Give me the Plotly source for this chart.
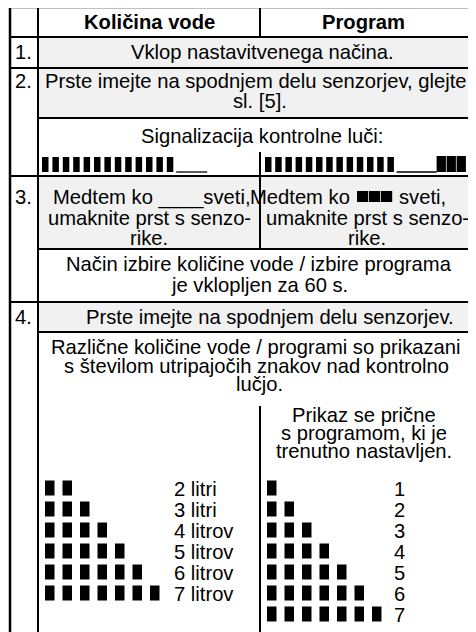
import plotly.graph_objects as go

W, H = 476, 632
OFF = 8  # default page body margin; coordinates below are page pixels
FONT = "Liberation Sans, Arial, Helvetica, sans-serif"
FS = 20.2

# ---------------- data ----------------
header_labels = ["Količina vode", "Program"]
step_numbers = ["1.", "2.", "3.", "4."]
step1_text = ["Vklop nastavitvenega načina."]
step2_text = ["Prste imejte na spodnjem delu senzorjev, glejte", "sl. [5]."]
signal_title = ["Signalizacija kontrolne luči:"]
step3_left = ["Medtem ko ____sveti,", "umaknite prst s senzo-", "rike."]
step3_right = ["umaknite prst s senzo-", "rike."]
mode_text = ["Način izbire količine vode / izbire programa", "je vklopljen za 60 s."]
step4_text = ["Prste imejte na spodnjem delu senzorjev."]
display_text = ["Različne količine vode / programi so prikazani",
                "s številom utripajočih znakov nad kontrolno", "lučjo."]
program_note = ["Prikaz se prične", "s programom, ki je", "trenutno nastavljen."]
water_labels = ["2 litri", "3 litri", "4 litrov", "5 litrov", "6 litrov", "7 litrov"]
water_counts = [2, 3, 4, 5, 6, 7]
program_labels = ["1", "2", "3", "4", "5", "6", "7"]
program_counts = [1, 2, 3, 4, 5, 6, 7]
signal_bar_count = 13
signal_block_count = 3

# ---------------- layout geometry ----------------
XL, XN, XM, XR = 10, 38, 260, 490   # outer left, number col, mid divider, right
C1 = 149
C2 = 365
CF = 260

shapes = []
annos = []

def rect(x0, y0, x1, y1, color):
    shapes.append(dict(type="rect", xref="x", yref="y", x0=x0, y0=y0, x1=x1, y1=y1,
                       fillcolor=color, line=dict(width=0), layer="below"))

def line(x0, y0, x1, y1, w=2):
    shapes.append(dict(type="line", xref="x", yref="y", x0=x0, y0=y0, x1=x1, y1=y1,
                       line=dict(color="black", width=w)))

def text(x, y, s, anchor="center", bold=False, size=FS):
    annos.append(dict(x=x, y=y, xref="x", yref="y", text=("<b>%s</b>" % s) if bold else s,
                      showarrow=False, xanchor=anchor, yanchor="middle",
                      font=dict(family=FONT, size=size, color="black")))

GREY = "#f1f1f1"
rect(XN, 37, XR, 68, GREY)
rect(XN, 68, XR, 118, GREY)
rect(XN, 176, XR, 249, GREY)
rect(XN, 302, XR, 332, GREY)

line(XL, 7, XR, 7, 2.5)
line(XL, 6, XL, H + 10, 2.5)
line(XN, 7, XN, H + 10, 2)
line(XL, 37, XR, 37)
line(XL, 68, XR, 68)
line(XN, 118, XR, 118)
line(XL, 176, XR, 176)
line(XN, 249, XR, 249)
line(XL, 302, XR, 302)
line(XN, 332, XR, 332)
line(XM, 7, XM, 37)
line(XM, 152, XM, 249)
line(XM, 406, XM, H + 10)

text(C1, 22, header_labels[0], bold=True)
text(C2 - 2, 22, header_labels[1], bold=True)

for s, y in zip(step_numbers, [52, 81, 197, 317]):
    text(13, y, s, anchor="left")

text(CF + 2, 52, step1_text[0])
text(256, 81, step2_text[0])
text(CF, 101, step2_text[1])
text(CF + 2, 136, signal_title[0])

def signal(x0, pitch, blocks):
    for i in range(signal_bar_count):
        rect(x0 + i * pitch, 157, x0 + i * pitch + 6.5, 172, "black")
    ux0 = x0 + signal_bar_count * pitch - 1
    ux1 = ux0 + (40 if blocks else 31)
    line(ux0, 172, ux1, 172, 1.3)
    for j in range(blocks):
        rect(ux1 + j * 10, 156, ux1 + j * 10 + 9.3, 172, "black")

signal(42, 10.4, 0)
signal(265, 10.2, signal_block_count)

text(253, 197, step3_left[0], anchor="right")
for s, y in zip(step3_left[1:], [218, 238]):
    text(C1, y, s)
text(352, 197, "Medtem ko", anchor="right")
for j in range(signal_block_count):
    rect(357 + j * 12, 191, 357 + j * 12 + 11.2, 202, "black")
text(397, 197, "sveti,", anchor="left")
for s, y in zip(step3_right, [218, 238]):
    text(C2 + 2, y, s)

for s, y in zip(mode_text, [264, 285]):
    text(CF - 1, y, s)
text(CF + 10, 317, step4_text[0])
text(256, 347, display_text[0])
text(256, 366, display_text[1])
text(259, 384, display_text[2])
for s, y in zip(program_note, [415, 433, 451]):
    text(364, y, s)

ROW0, ROWP = 488, 21
BW, BH, BP = 9.5, 15, 17.5
for r, (n, lab) in enumerate(zip(water_counts, water_labels)):
    yc = ROW0 + r * ROWP
    for k in range(n):
        rect(45 + k * BP, yc - BH / 2, 45 + k * BP + BW, yc + BH / 2, "black")
    text(172, yc + 1, lab, anchor="left")
for r, (n, lab) in enumerate(zip(program_counts, program_labels)):
    yc = ROW0 + r * ROWP
    for k in range(n):
        rect(267 + k * BP, yc - BH / 2, 267 + k * BP + BW, yc + BH / 2, "black")
    text(392, yc + 1, lab, anchor="left")

fig = go.Figure()
fig.add_trace(go.Scatter(x=[OFF, W], y=[OFF, H], mode="markers", marker=dict(opacity=0),
                         hoverinfo="skip", showlegend=False))
fig.update_layout(width=W - OFF, height=H - OFF, margin=dict(l=0, r=0, t=0, b=0),
                  paper_bgcolor="white", plot_bgcolor="white",
                  xaxis=dict(range=[OFF, W], visible=False, fixedrange=True),
                  yaxis=dict(range=[H, OFF], visible=False, fixedrange=True),
                  shapes=shapes, annotations=annos, showlegend=False)
fig.write_html("out.html", config={"displayModeBar": False})
